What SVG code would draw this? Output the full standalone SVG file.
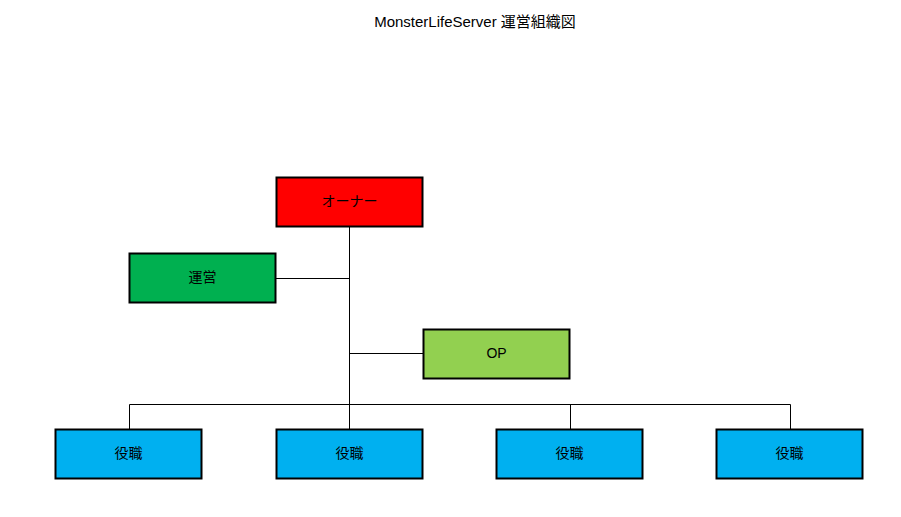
<svg xmlns="http://www.w3.org/2000/svg" width="901" height="517" viewBox="0 0 901 517">
<style>
.box{stroke:#000;stroke-width:2}
.lbl{font-family:"Liberation Sans","Noto Sans CJK JP",sans-serif;font-size:14px;fill:#000;text-anchor:middle;dominant-baseline:central}
.ln{stroke:#000;stroke-width:1;fill:none}
</style>
<rect width="901" height="517" fill="#fff"/>
<text class="lbl" x="475" y="21" style="font-size:15px">MonsterLifeServer 運営組織図</text>
<g id="connectors">
<path class="ln" d="M349.5 227V404.5M276 278.5H349.5M349.5 353.5H423M129.5 404.5H790.5M129.5 404.5V429M349.5 404.5V429M570.5 404.5V429M790.5 404.5V429"/>
</g>
<g id="owner"><rect class="box" x="276.5" y="177.5" width="146" height="49" fill="#FF0000"/><text class="lbl" x="349.5" y="201">オーナー</text></g>
<g id="unei"><rect class="box" x="129.5" y="253.5" width="146" height="49" fill="#00B050"/><text class="lbl" x="202.5" y="277">運営</text></g>
<g id="op"><rect class="box" x="423.5" y="329.5" width="146" height="49" fill="#92D050"/><text class="lbl" x="496.5" y="353">OP</text></g>
<g id="role1"><rect class="box" x="55.5" y="429.5" width="146" height="49" fill="#00B0F0"/><text class="lbl" x="128.5" y="453">役職</text></g>
<g id="role2"><rect class="box" x="276.5" y="429.5" width="146" height="49" fill="#00B0F0"/><text class="lbl" x="349.5" y="453">役職</text></g>
<g id="role3"><rect class="box" x="496.5" y="429.5" width="146" height="49" fill="#00B0F0"/><text class="lbl" x="569.5" y="453">役職</text></g>
<g id="role4"><rect class="box" x="716.5" y="429.5" width="146" height="49" fill="#00B0F0"/><text class="lbl" x="789.5" y="453">役職</text></g>
</svg>
